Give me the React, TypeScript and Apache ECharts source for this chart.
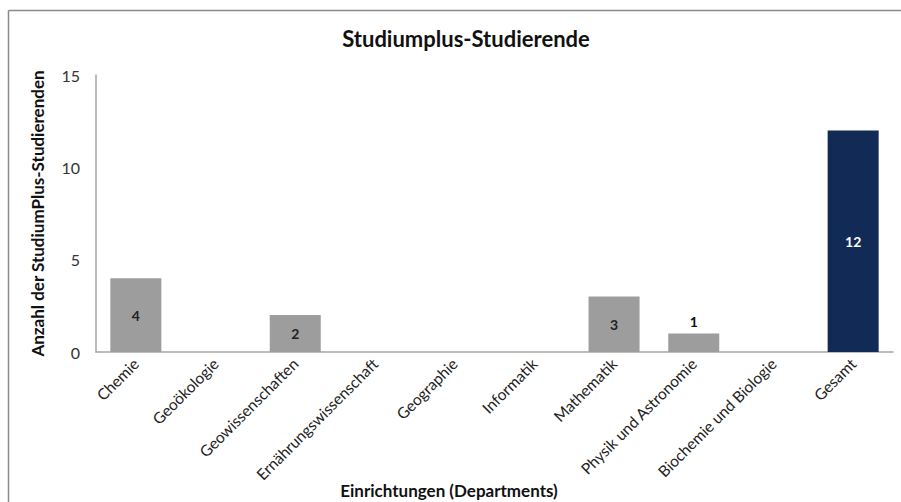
import React, { useEffect, useRef } from "react";
import * as echarts from "echarts";

const categories = [
  "Chemie",
  "Geoökologie",
  "Geowissenschaften",
  "Ernährungswissenschaft",
  "Geographie",
  "Informatik",
  "Mathematik",
  "Physik und Astronomie",
  "Biochemie und Biologie",
  "Gesamt",
];
const values = [4, 0, 2, 0, 0, 0, 3, 1, 0, 12];
const yTicks = [0, 5, 10, 15];

const FONT = "Lato, 'Open Sans', sans-serif";

export default function App() {
  const ref = useRef<HTMLDivElement>(null);
  useEffect(() => {
    document.body.style.margin = "0";
    if (!ref.current) return;
    const chart = echarts.init(ref.current, undefined, { renderer: "svg" });
    const data = values.map((v, i) => {
      const isTotal = categories[i] === "Gesamt";
      const item: any = {
        value: v,
        itemStyle: { color: isTotal ? "#112b56" : "#9d9d9d" },
      };
      if (v === 0) {
        item.label = { show: false };
      } else if (v === 1) {
        item.label = { show: true, position: "top", distance: 5, color: "#111" };
      } else {
        item.label = {
          show: true,
          position: "inside",
          color: isTotal ? "#ffffff" : "#222",
        };
      }
      return item;
    });
    chart.setOption({
      animation: false,
      backgroundColor: "#ffffff",
      textStyle: { fontFamily: FONT },
      title: {
        text: "Studiumplus-Studierende",
        left: 461,
        top: 22,
        textAlign: "center",
        textStyle: { fontFamily: FONT, fontSize: 22, fontWeight: "bold", color: "#111" },
      },
      grid: { left: 96, right: 8, top: 75, bottom: 150, containLabel: false },
      xAxis: {
        type: "category",
        data: categories,
        axisLine: { show: true, lineStyle: { color: "#a6a6a6", width: 1.5 } },
        axisTick: { show: false },
        axisLabel: {
          interval: 0,
          rotate: 45,
          margin: 9,
          fontFamily: FONT,
          fontSize: 15.5,
          color: "#222",
        },
      },
      yAxis: {
        type: "value",
        min: 0,
        max: yTicks[yTicks.length - 1],
        interval: 5,
        name: "Anzahl der StudiumPlus-Studierenden",
        nameLocation: "middle",
        nameGap: 50,
        nameRotate: 90,
        nameTextStyle: { fontFamily: FONT, fontSize: 17, fontWeight: "bold", color: "#111" },
        axisLine: { show: true, lineStyle: { color: "#a6a6a6", width: 1.5 } },
        axisTick: { show: false },
        splitLine: { show: false },
        axisLabel: { fontFamily: FONT, fontSize: 16, color: "#333", margin: 16 },
      },
      graphic: [
        {
          type: "line",
          shape: { x1: 8.5, y1: 10.5, x2: 901, y2: 10.5 },
          style: { stroke: "#8a8a8a", lineWidth: 1.5 },
        },
        {
          type: "line",
          shape: { x1: 8.5, y1: 10.5, x2: 8.5, y2: 502 },
          style: { stroke: "#8a8a8a", lineWidth: 1.5 },
        },
        {
          type: "text",
          x: 449,
          y: 490,
          style: {
            text: "Einrichtungen (Departments)",
            fontFamily: FONT,
            fontSize: 17,
            fontWeight: "bold",
            fill: "#111",
            align: "center",
            verticalAlign: "middle",
          },
        },
      ],
      series: [
        {
          type: "bar",
          data,
          barWidth: "64%",
          label: {
            show: true,
            fontFamily: FONT,
            fontSize: 14,
            fontWeight: "bold",
          },
        },
      ],
    });
    return () => chart.dispose();
  }, []);
  return <div ref={ref} style={{ width: 901, height: 502 }} />;
}
